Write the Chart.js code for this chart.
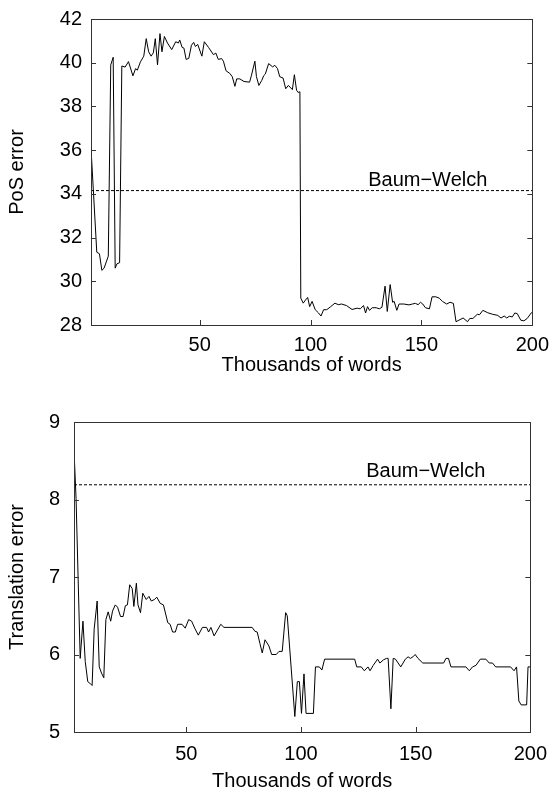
<!DOCTYPE html>
<html>
<head>
<meta charset="utf-8">
<script src="https://cdn.jsdelivr.net/npm/chart.js"></script>
<style>
  body { margin: 0; background: #fff; }
  #wrap { position: relative; width: 557px; height: 796px; }
  canvas { position: absolute; left: 0; }
</style>
</head>
<body>
<div id="wrap">
  <canvas id="pos-chart" width="557" height="398" style="top:0"></canvas>
  <canvas id="trans-chart" width="557" height="398" style="top:398px"></canvas>
</div>
<script>
    // thousands of words
    const xTicks = [50, 100, 150, 200];

    // PoS error curve
    const posX = [1, 3.6, 4.8, 5.9, 6.9, 8.8, 9.9, 11, 11.9, 12.7, 13.9, 14.9, 16.4, 17.9, 19.9, 21.1, 21.9, 23.3, 24.8,
        25.9, 27, 28.1, 29.1, 30, 31, 32.1, 33, 34.1, 35.5, 37.4, 39.2, 40.4, 41, 42.1, 42.9, 43.9, 45.1, 46.3, 47.3,
        48.1, 49.1, 51, 52.1, 54, 56.2, 57.3, 58.4, 59.9, 60.7, 61.9, 63.6, 64.7, 65.9, 66.7, 68.1, 70, 72.5, 73.3,
        74.9, 75.6, 76.7, 78, 78.9, 79.6, 81.1, 82.9, 83.9, 85.1, 86.1, 87.6, 88.8, 90, 91.8, 92.7, 93.7, 94.4, 95.2,
        95.6, 96.7, 97.7, 98.7, 99.6, 100.7, 102.1, 103.6, 104.7, 105.9, 107.3, 109.1, 111, 112.5, 114, 116.2, 118.7,
        121, 122.4, 123.9, 124.8, 125.7, 126.6, 127.8, 129.6, 131, 132.2, 133.6, 134.6, 135.9, 137, 137.7, 138.9,
        139.9, 142.1, 144.4, 145.9, 147.3, 148.5, 149.6, 150.6, 151.8, 153.6, 154.8, 156.5, 158, 159.5, 161.4, 162.9,
        164.4, 165.6, 166.9, 168.8, 170.8, 171.8, 173.2, 175.2, 176.2, 177.7, 179.9, 182.1, 184.4, 185.9, 187.3,
        188.5, 189.6, 191, 192.1, 193.2, 194.8, 196.2, 197.7, 199.5, 200];
    const posErr = [36.1, 31.33, 31.26, 30.5, 30.6, 31.15, 39.9, 40.25, 30.6, 30.8, 30.85, 39.85, 39.8, 40.05, 39.4,
        39.73, 39.66, 40.04, 40.3, 41.1, 40.5, 40.3, 40.45, 41.1, 39.9, 41.33, 40.5, 41.2, 40.9, 40.6, 40.96, 40.9,
        41.04, 40.7, 40.67, 40.15, 40.2, 40.8, 40.93, 40.74, 40.84, 40.3, 40.96, 40.7, 40.37, 40.44, 40.15, 40.19,
        40.07, 39.63, 39.51, 39.36, 38.92, 39.26, 39.26, 39.14, 39.11, 39.4, 40.07, 39.36, 38.96, 39.19, 39.41,
        39.48, 39.96, 39.81, 39.88, 39.73, 39.36, 39.3, 38.81, 38.96, 38.77, 39.45, 38.74, 38.64, 38.67, 29.23,
        29.0, 29.14, 29.26, 28.84, 29.08, 28.7, 28.55, 28.41, 28.7, 28.7, 28.84, 29.0, 28.93, 28.96, 28.89, 28.71,
        28.77, 28.74, 28.89, 28.55, 28.84, 28.67, 28.79, 28.79, 28.74, 28.81, 29.78, 28.62, 29.85, 29.04, 29.08,
        28.67, 28.96, 28.96, 28.92, 28.96, 28.99, 28.93, 29.04, 28.96, 28.79, 28.74, 29.29, 29.29, 29.23, 29.08,
        28.96, 29.04, 28.99, 28.15, 28.22, 28.32, 28.15, 28.3, 28.3, 28.49, 28.47, 28.67, 28.56, 28.49, 28.44,
        28.32, 28.41, 28.32, 28.4, 28.37, 28.55, 28.52, 28.22, 28.19, 28.3, 28.55, 28.6];
    const posBaumWelch = 34.15;
    const posYTicks = [28, 30, 32, 34, 36, 38, 40, 42];

    // translation error curve
    const transX = [1, 1.9, 3.7, 4.9, 5.9, 7, 7.9, 8.9, 9.8, 11.1, 12, 13, 14, 14.9, 15.9, 17, 17.8, 19, 20, 21.3,
        22.4, 23.4, 24.3, 25.3, 26.4, 27.1, 28.2, 28.9, 30, 31, 32.5, 33.7, 34.7, 36.1, 37.1, 38.6, 40, 41.9, 42.9,
        44, 45.2, 46.2, 48.1, 49.5, 51, 52.3, 53.8, 55.2, 57, 58.8, 59.7, 60.7, 62.1, 65, 66.4, 78.7, 79.9, 80.9,
        82.1, 83.1, 84.3, 86, 87.2, 89.2, 90.4, 91.8, 93.3, 94, 97.3, 98.4, 99.3, 100.2, 101.3, 102.2, 105.4, 106.3,
        108, 109.1, 110.3, 123.4, 124.3, 126.3, 127.6, 129.2, 130.1, 131.5, 133.4, 134.4, 135.9, 137.3, 138, 139.2,
        140.2, 141.2, 143.5, 145.5, 146.7, 147.7, 148.8, 149.8, 151, 153.1, 162.2, 163.2, 164.3, 165.4, 171.9,
        173.4, 174.8, 176.3, 178.2, 180.6, 182.1, 183.5, 184.9, 191.4, 192.9, 194, 195, 196, 198.4, 199, 200];
    const transErr = [8.64, 8.01, 5.95, 6.43, 5.91, 5.65, 5.63, 5.6, 6.33, 6.69, 5.84, 5.76, 5.7, 6.45, 6.55, 6.43,
        6.56, 6.64, 6.61, 6.49, 6.49, 6.63, 6.64, 6.9, 6.85, 6.62, 6.92, 6.64, 6.54, 6.79, 6.71, 6.75, 6.69, 6.71,
        6.74, 6.66, 6.64, 6.41, 6.39, 6.29, 6.29, 6.39, 6.39, 6.34, 6.45, 6.43, 6.33, 6.25, 6.35, 6.35, 6.29, 6.35,
        6.24, 6.39, 6.35, 6.35, 6.3, 6.29, 6.14, 6.02, 6.19, 6.11, 6.0, 6.0, 6.04, 6.04, 6.54, 6.5, 5.2, 5.65, 5.65,
        5.24, 5.75, 5.24, 5.24, 5.84, 5.84, 5.8, 5.94, 5.94, 5.84, 5.84, 5.79, 5.84, 5.79, 5.86, 5.94, 5.89, 5.93,
        5.95, 5.95, 5.3, 5.95, 5.94, 5.84, 5.94, 5.97, 5.95, 5.97, 6.0, 5.95, 5.89, 5.89, 5.95, 5.95, 5.84, 5.84,
        5.79, 5.84, 5.86, 5.94, 5.94, 5.89, 5.89, 5.84, 5.84, 5.79, 5.84, 5.4, 5.35, 5.35, 5.84, 5.84];
    const transBaumWelch = 8.19;
    const transYTicks = [5, 6, 7, 8, 9];

    const FONT = { family: "'Liberation Sans', Arial, sans-serif", size: 20 };

    // frame, inward tick marks and the Baum-Welch label
    const framePlugin = {
        id: 'frame',
        afterDraw(chart, args, opts) {
            const { ctx, chartArea: a, scales } = chart;
            ctx.save();
            ctx.strokeStyle = '#333';
            ctx.lineWidth = 1;
            ctx.beginPath();
            scales.y.ticks.forEach(t => {
                if (t.value <= scales.y.min || t.value >= scales.y.max) return;
                const y = Math.round(scales.y.getPixelForValue(t.value)) + 0.5;
                ctx.moveTo(a.left, y); ctx.lineTo(a.left + 5, y);
                ctx.moveTo(a.right, y); ctx.lineTo(a.right - 5, y);
            });
            scales.x.ticks.forEach(t => {
                if (t.value >= scales.x.max) return;
                const x = Math.round(scales.x.getPixelForValue(t.value)) + 0.5;
                ctx.moveTo(x, a.bottom); ctx.lineTo(x, a.bottom - 5);
            });
            ctx.stroke();
            ctx.strokeRect(Math.round(a.left) + 0.5, Math.round(a.top) + 0.5,
                Math.round(a.right - a.left), Math.round(a.bottom - a.top));

            ctx.fillStyle = '#000';
            ctx.font = FONT.size + 'px ' + FONT.family;
            ctx.textAlign = 'right';
            ctx.textBaseline = 'alphabetic';
            ctx.fillText('Baum\u2212Welch', a.right - 45, scales.y.getPixelForValue(opts.level) - opts.lift);
            ctx.restore();
        }
    };

    function makeChart(id, xs, ys, level, yTicks, cfg) {
        const pts = xs.map((x, i) => ({ x: x, y: ys[i] }));
        const base = [{ x: 1, y: level }, { x: 200, y: level }];
        return new Chart(document.getElementById(id), {
            type: 'line',
            data: {
                datasets: [
                    { data: pts, borderColor: '#000', borderWidth: 1, pointRadius: 0, tension: 0 },
                    { data: base, borderColor: '#000', borderWidth: 1, borderDash: [3, 2], pointRadius: 0 }
                ]
            },
            options: {
                responsive: false,
                animation: false,
                devicePixelRatio: 1,
                layout: { padding: cfg.padding },
                plugins: {
                    legend: { display: false },
                    tooltip: { enabled: false },
                    frame: { level: level, lift: cfg.lift }
                },
                scales: {
                    x: {
                        type: 'linear', min: 1, max: 200,
                        afterBuildTicks: s => { s.ticks = xTicks.map(v => ({ value: v })); },
                        afterFit: s => { s.height = cfg.xHeight; },
                        grid: { display: false, drawTicks: false },
                        border: { display: false },
                        ticks: { color: '#000', font: FONT, padding: cfg.xTickPad, maxRotation: 0 },
                        title: { display: true, text: 'Thousands of words', color: '#000', font: FONT,
                            padding: { top: 0, bottom: cfg.xTitlePad } }
                    },
                    y: {
                        min: yTicks[0], max: yTicks[yTicks.length - 1],
                        afterBuildTicks: s => { s.ticks = yTicks.map(v => ({ value: v })); },
                        afterFit: s => { s.width = cfg.yWidth; },
                        grid: { display: false, drawTicks: false },
                        border: { display: false },
                        ticks: { color: '#000', font: Object.assign({ lineHeight: 1 }, FONT), padding: cfg.yTickPad },
                        title: { display: true, text: cfg.yTitle, color: '#000', font: FONT,
                            padding: { top: cfg.yTitlePad, bottom: 0 } }
                    }
                }
            },
            plugins: [framePlugin]
        });
    }

    makeChart('pos-chart', posX, posErr, posBaumWelch, posYTicks, {
        padding: { left: 0, right: 19, top: 10, bottom: 0 },
        xHeight: 73, yWidth: 91, yTickPad: 9, yTitlePad: 5, xTickPad: 8, xTitlePad: 21, lift: 5,
        yTitle: 'PoS error'
    });
    makeChart('trans-chart', transX, transErr, transBaumWelch, transYTicks, {
        padding: { left: 0, right: 24, top: 17, bottom: 0 },
        xHeight: 64, yWidth: 74, yTickPad: 14, yTitlePad: 5, xTickPad: 10, xTitlePad: 3, lift: 8,
        yTitle: 'Translation error'
    });
</script>
</body>
</html>
